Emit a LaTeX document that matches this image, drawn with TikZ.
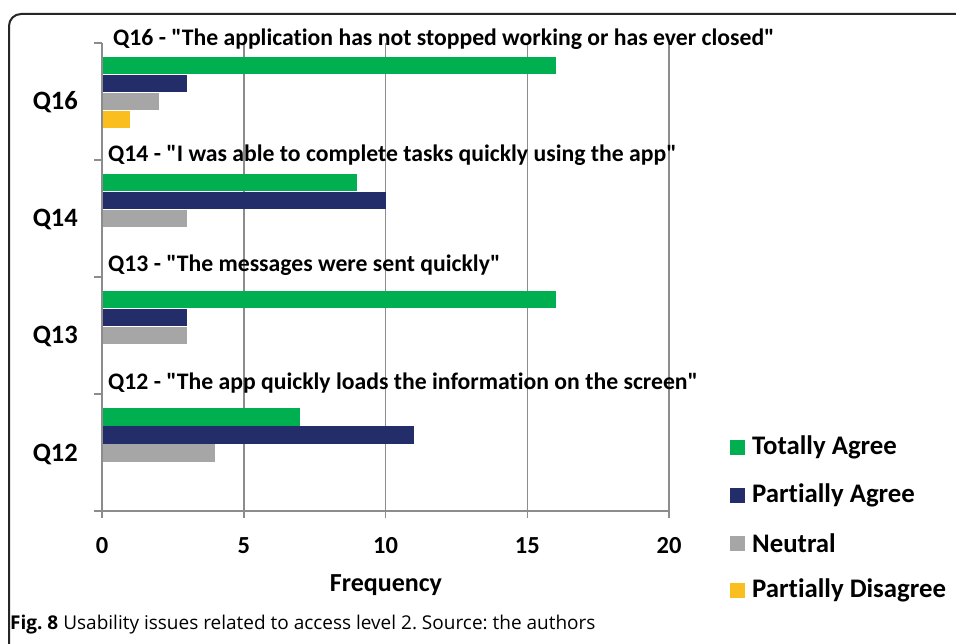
\documentclass[tikz,border=0pt]{standalone}
\usepackage{fontspec}
\setmainfont{Carlito}[Ligatures={TeXOff,CommonOff}]
\newfontfamily\capfont{Open Sans}[Ligatures={TeXOff,CommonOff}]
\frenchspacing
\definecolor{barTA}{RGB}{0,176,80}
\definecolor{barPA}{RGB}{35,45,105}
\definecolor{barNT}{RGB}{166,166,166}
\definecolor{barPD}{RGB}{250,190,30}
\definecolor{gridgray}{RGB}{140,140,140}
\begin{document}
\begin{tikzpicture}[x=1pt,y=-1pt,
  gridline/.style={draw=gridgray,line width=1.5pt},
  axisline/.style={draw=gridgray,line width=1.5pt},
  qtitle/.style={anchor=base west,inner sep=0pt,font=\bfseries\fontsize{23.7}{28}\selectfont},
  qlabel/.style={anchor=base east,inner sep=0pt,font=\bfseries\fontsize{26.5}{30}\selectfont},
  ticklab/.style={anchor=base,inner sep=0pt,font=\bfseries\fontsize{24.5}{28}\selectfont},
  legtext/.style={anchor=west,inner sep=0pt,font=\bfseries\fontsize{26.8}{31}\selectfont},
  legkey/.style={minimum size=15pt,inner sep=0pt},
]
\useasboundingbox (0,0) rectangle (956,644);
\clip (0,0) rectangle (956,644);

% outer frame
\draw[line width=2pt,black!85,rounded corners=12pt] (9,700) -- (9,14) -- (1000,14);

% vertical gridlines
\foreach \j in {1,...,4}
  \draw[gridline] ({102+141.75*\j},43) -- ({102+141.75*\j},518);

% bars: category tops at 43+117k, values in order TA, PA, N, PD
\newcommand\barrow[3]{%
  \fill[#1] (102,{#2}) rectangle ({102+28.35*#3},{#2+17.5});}
\foreach \k/\a/\b/\c/\d in {0/16/3/2/1, 1/9/10/3/0, 2/16/3/3/0, 3/7/11/4/0}{
  \pgfmathsetmacro\t{43+117*\k+14}
  \barrow{barTA}{\t}{\a}
  \barrow{barPA}{\t+18}{\b}
  \barrow{barNT}{\t+36}{\c}
  \ifnum\d>0 \barrow{barPD}{\t+54}{\d}\fi
}

% axes
\draw[axisline] (94,511) -- (669,511);
\foreach \j in {0,...,4}
  \draw[axisline] ({102+141.75*\j},511) -- ({102+141.75*\j},518);
\draw[axisline] (102,43) -- (102,511);
\foreach \k in {0,...,4}
  \draw[axisline] (94,{43+117*\k}) -- (102,{43+117*\k});

% tick labels
\foreach \v [count=\j from 0] in {0,5,10,15,20}
  \node[ticklab] (tick\v) at ({102+141.75*\j},553) {\v};
\node[anchor=base,inner sep=0pt,font=\bfseries\fontsize{26}{30}\selectfont] (xlabel) at (386,591) {Frequency};

% category labels
\node[qlabel] (q16) at (78,110) {Q16};
\node[qlabel] (q14) at (78,227) {Q14};
\node[qlabel] (q13) at (78,344) {Q13};
\node[qlabel] (q12) at (78,461) {Q12};

% question titles
\node[qtitle] (t16) at (113,46) {Q16 - "The application has not stopped working or has ever closed"};
\node[qtitle] (t14) at (108,162) {Q14 - "I was able to complete tasks quickly using the app"};
\node[qtitle] (t13) at (108,272) {Q13 - "The messages were sent quickly"};
\node[qtitle] (t12) at (108,389) {Q12 - "The app quickly loads the information on the screen"};

% legend
\foreach \c/\txt/\y [count=\i] in {barTA/Totally Agree/447, barPA/Partially Agree/495, barNT/Neutral/543, barPD/Partially Disagree/590}{
  \node[legkey,fill=\c] (key\i) at (737.5,\y) {};
  \node[legtext] (leg\i) at (752,\y) {\txt};
}

% caption
\node[anchor=base west,inner sep=0pt,font=\capfont\fontsize{19}{22}\selectfont] (caption) at (10,629)
  {\textbf{Fig. 8} Usability issues related to access level 2. Source: the authors};
\end{tikzpicture}
\end{document}
